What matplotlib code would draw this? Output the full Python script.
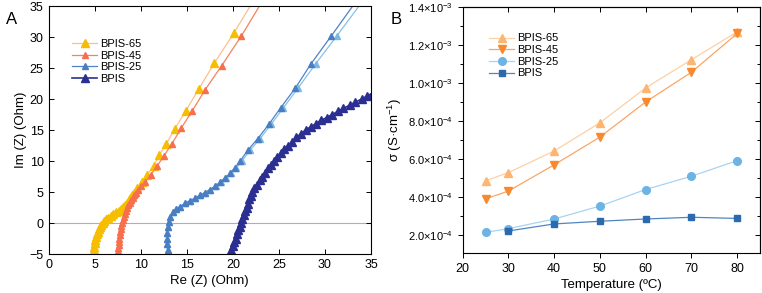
import matplotlib
matplotlib.use("Agg")
import matplotlib.pyplot as plt
import matplotlib.ticker as mtick

plt.rcParams['font.family'] = ['Liberation Sans', 'DejaVu Sans']
plt.rcParams['mathtext.fontset'] = 'custom'
plt.rcParams['mathtext.rm'] = 'Liberation Sans'
plt.rcParams['mathtext.it'] = 'Liberation Sans'

# Panel A: Nyquist data (Re Z, Im Z) in Ohm
bpis65_re = [4.9, 4.93, 4.97, 5.02, 5.09, 5.16, 5.24, 5.34, 5.45, 5.57, 5.71, 5.88,
             6.07, 6.28, 6.5, 6.76, 7.04, 7.33, 7.62, 7.9, 8.13, 8.32, 8.49, 8.69,
             8.89, 9.07, 9.25, 9.6, 10.1, 10.7, 11.4, 12.0, 12.8, 13.7, 14.9, 16.3,
             18.0, 20.1, 22.3]
bpis65_im = [-5.0, -4.3, -3.8, -3.3, -2.8, -2.3, -1.8, -1.4, -1.0, -0.65, -0.3, 0.02,
             0.34, 0.62, 0.88, 1.15, 1.43, 1.7, 1.96, 2.25, 2.6, 2.95, 3.3, 3.7,
             4.1, 4.5, 4.9, 5.6, 6.6, 7.8, 9.2, 10.9, 12.8, 15.2, 18.1, 21.6,
             25.8, 30.6, 36.0]

bpis45_re = [7.45, 7.5, 7.55, 7.6, 7.63, 7.67, 7.72, 7.77, 7.83, 7.9, 7.97, 8.05,
             8.15, 8.27, 8.4, 8.52, 8.65, 8.8, 8.97, 9.14, 9.3, 9.5, 9.75, 10.0,
             10.5, 11.1, 11.8, 12.5, 13.4, 14.4, 15.6, 17.0, 18.8, 20.9, 23.3]
bpis45_im = [-5.0, -4.5, -4.0, -3.5, -3.0, -2.5, -2.0, -1.5, -1.0, -0.5, 0.0, 0.5,
             1.0, 1.5, 2.0, 2.5, 2.9, 3.3, 3.7, 4.1, 4.5, 4.9, 5.4, 5.9,
             6.6, 7.8, 9.2, 10.8, 12.8, 15.3, 18.1, 21.5, 25.4, 30.1, 36.0]

bpis25_re = [12.98, 12.93, 12.86, 12.82, 12.86, 12.93, 13.04, 13.22, 13.47, 13.84, 14.27,
             14.8, 15.35, 15.9, 16.4, 16.97, 17.5, 18.06, 18.6, 19.1, 19.7, 20.2,
             20.8, 21.6, 22.7, 23.9, 25.2, 26.8, 28.5, 30.7, 33.5]
bpis25_im = [-5.6, -4.4, -3.4, -2.5, -1.6, -0.6, 0.23, 1.04, 1.7, 2.2, 2.66,
             3.15, 3.6, 4.0, 4.45, 4.9, 5.4, 5.9, 6.55, 7.2, 8.0, 8.9,
             10.0, 11.7, 13.6, 15.9, 18.6, 21.8, 25.7, 30.2, 36.0]

bpis25b_re = [12.98, 12.93, 12.86, 12.82, 12.86, 12.93, 13.04, 13.22, 13.47, 13.84, 14.27,
              14.8, 15.35, 15.9, 16.4, 16.97, 17.55, 18.15, 18.7, 19.25, 19.85, 20.4,
              21.0, 21.85, 22.95, 24.15, 25.5, 27.1, 29.0, 31.3, 34.2]
bpis25b_im = bpis25_im

bpis_re = [19.7, 19.85, 20.0, 20.15, 20.3, 20.45, 20.6, 20.75, 20.9, 21.05, 21.2, 21.35,
           21.5, 21.65, 21.8, 21.95, 22.1, 22.35, 22.6, 22.9, 23.2, 23.5, 23.85, 24.15,
           24.5, 24.85, 25.25, 25.6, 26.0, 26.45, 26.9, 27.4, 27.9, 28.45, 29.0, 29.6,
           30.2, 30.8, 31.4, 32.0, 32.7, 33.3, 34.0, 34.6, 35.2]
bpis_im = [-5.0, -4.4, -3.7, -3.1, -2.5, -1.8, -1.2, -0.6, 0.0, 0.6, 1.3, 1.9,
           2.5, 3.1, 3.8, 4.4, 5.0, 5.6, 6.2, 6.9, 7.5, 8.1, 8.8, 9.4,
           10.0, 10.6, 11.3, 11.9, 12.5, 13.1, 13.8, 14.4, 15.0, 15.5, 16.0, 16.6,
           17.0, 17.5, 18.0, 18.5, 19.0, 19.5, 20.0, 20.5, 21.0]

# Panel B: conductivity vs temperature
temps = [25, 30, 40, 50, 60, 70, 80]
sig65 = [4.85e-4, 5.28e-4, 6.42e-4, 7.90e-4, 9.74e-4, 1.122e-3, 1.269e-3]
sig45 = [3.90e-4, 4.31e-4, 5.69e-4, 7.15e-4, 9.00e-4, 1.056e-3, 1.260e-3]
sig25 = [2.14e-4, 2.33e-4, 2.84e-4, 3.52e-4, 4.39e-4, 5.09e-4, 5.91e-4]
temps_bpis = [30, 40, 50, 60, 70, 80]
sig0 = [2.21e-4, 2.58e-4, 2.72e-4, 2.84e-4, 2.93e-4, 2.87e-4]

fig = plt.figure(figsize=(7.62, 2.93), dpi=100)
axA = fig.add_axes([0.0637, 0.1331, 0.4232, 0.8464])
axB = fig.add_axes([0.6072, 0.1365, 0.3902, 0.840])

# ---- panel A
axA.axhline(0, color='#b0b0b0', lw=0.8, zorder=0)
axA.plot(bpis65_re, bpis65_im, color='#fdc08a', lw=0.9, marker='^', ms=5.5,
         mfc='#f7bd00', mec='#f7bd00', label='BPIS-65')
axA.plot(bpis45_re, bpis45_im, color='#f8805e', lw=0.9, marker='^', ms=4.5,
         mfc='#f76f4c', mec='#f76f4c', label='BPIS-45')
axA.plot(bpis25b_re, bpis25b_im, color='#86c0ea', lw=0.9, marker='^', ms=4,
         mfc='#7ab8e6', mec='#7ab8e6')
axA.plot(bpis25_re, bpis25_im, color='#4f83c6', lw=0.9, marker='^', ms=4,
         mfc='#4a7ec3', mec='#4a7ec3', label='BPIS-25')
axA.plot(bpis_re, bpis_im, color='#2b2f92', lw=1.2, marker='^', ms=5.5,
         mfc='#2b2f92', mec='#2b2f92', label='BPIS')
axA.set_xlim(0, 35)
axA.set_ylim(-5, 35)
axA.xaxis.set_major_locator(mtick.MultipleLocator(5))
axA.yaxis.set_major_locator(mtick.MultipleLocator(5))
axA.tick_params(direction='in', top=True, right=True, labelsize=9, length=3.5, width=0.7)
axA.set_xlabel('Re (Z) (Ohm)', fontsize=9.5, labelpad=3)
axA.set_ylabel('Im (Z) (Ohm)', fontsize=9.5, labelpad=2)
axA.legend(loc='upper left', bbox_to_anchor=(0.06, 0.885), frameon=False, fontsize=8,
           handlelength=2.2, handletextpad=0.3, labelspacing=0.15, borderaxespad=0)
for s in axA.spines.values():
    s.set_linewidth(0.8)

# ---- panel B
axB.plot(temps, sig65, color='#fdd0a6', lw=0.9, marker='^', ms=6,
         mfc='#fdb56f', mec='#fdb56f', label='BPIS-65')
axB.plot(temps, sig45, color='#fba566', lw=0.9, marker='v', ms=6,
         mfc='#f9892c', mec='#f9892c', label='BPIS-45')
axB.plot(temps, sig25, color='#a9d3f0', lw=0.9, marker='o', ms=5.5,
         mfc='#6cb4e4', mec='#6cb4e4', label='BPIS-25')
axB.plot(temps_bpis, sig0, color='#4f86c2', lw=0.9, marker='s', ms=4.5,
         mfc='#2c6aaf', mec='#2c6aaf', label='BPIS')
axB.set_xlim(20, 85)
axB.set_ylim(1.05e-4, 1.4e-3)
axB.xaxis.set_major_locator(mtick.MultipleLocator(10))
axB.yaxis.set_major_locator(mtick.MultipleLocator(2e-4))
axB.yaxis.set_minor_locator(mtick.MultipleLocator(1e-4))


def sci_fmt(v, pos):
    if v <= 0:
        return ''
    e = int(f"{v:.1e}".split('e')[1])
    m = v / 10 ** e
    return r'$\mathregular{%.1f{\times}10^{%d}}$' % (m, e)


axB.yaxis.set_major_formatter(mtick.FuncFormatter(sci_fmt))
axB.tick_params(which='both', direction='out', width=0.7)
axB.tick_params(axis='x', labelsize=9)
axB.tick_params(axis='y', labelsize=8)
axB.tick_params(which='major', length=3.5)
axB.tick_params(which='minor', length=2)
axB.set_xlabel('Temperature (ºC)', fontsize=9.5, labelpad=3)
axB.set_ylabel(r'σ (S·cm$^{-1}$)', fontsize=9.5, labelpad=3)
axB2 = axB.secondary_xaxis('top')
axB2.xaxis.set_major_locator(mtick.MultipleLocator(10))
axB2.tick_params(direction='in', labeltop=False, length=3.5, width=0.7)
axB3 = axB.secondary_yaxis('right')
axB3.yaxis.set_major_locator(mtick.MultipleLocator(2e-4))
axB3.yaxis.set_minor_locator(mtick.MultipleLocator(1e-4))
axB3.tick_params(which='both', direction='in', labelright=False, width=0.7)
axB3.tick_params(which='major', length=3.5)
axB3.tick_params(which='minor', length=2)
axB.legend(loc='upper left', bbox_to_anchor=(0.075, 0.91), frameon=False, fontsize=8,
           handlelength=2.2, handletextpad=0.3, labelspacing=0.15, borderaxespad=0)
for s in axB.spines.values():
    s.set_linewidth(0.8)

fig.text(0.008, 0.96, 'A', fontsize=12, va='top')
fig.text(0.513, 0.96, 'B', fontsize=12, va='top')

fig.savefig('out.png', dpi=100)
